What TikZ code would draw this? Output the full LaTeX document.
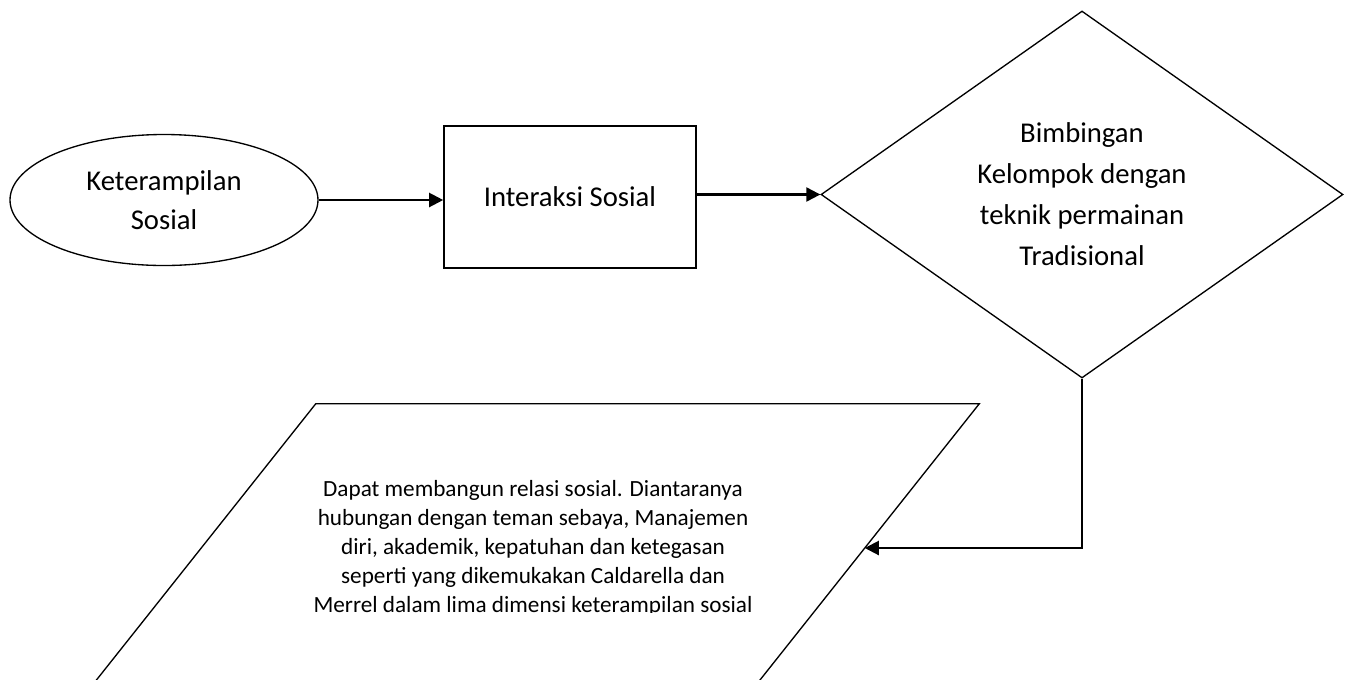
\documentclass[tikz,border=0pt]{standalone}
\usepackage{fontspec}
\setmainfont{Carlito}
\usetikzlibrary{positioning,shapes.geometric,arrows.meta}

\begin{document}
\begin{tikzpicture}[x=0.75pt, y=-0.75pt,
				awal/.style={ellipse, draw=black, line width=1pt, minimum width=231pt, minimum height=98.25pt, inner sep=0pt, align=center, font=\fontsize{21.5}{29.5}\selectfont},
				proses/.style={rectangle, draw=black, line width=1.2pt, minimum width=189pt, minimum height=106.5pt, font=\fontsize{21.5}{28.5}\selectfont},
				keputusan/.style={diamond, draw=black, line width=1pt, minimum width=391.5pt, minimum height=275.25pt, inner sep=0pt, align=center, font=\fontsize{21.5}{30.75}\selectfont},
				hasilbox/.style={rectangle, minimum width=497.25pt, minimum height=216pt, inner sep=0pt, align=center, font=\fontsize{17.4}{21.75}\selectfont}
			]
			\useasboundingbox (0,0) rectangle (1349,679);
			\clip (0,0) rectangle (1349,679);
			\node[awal] (sosial) at (164,200) {Keterampilan\\Sosial};
			\node[proses] (interaksi) at (570,197) {Interaksi Sosial};
			\node[keputusan] (bimbingan) at (1082,194.5) {Bimbingan\\Kelompok dengan\\teknik permainan\\Tradisional};
			\begin{scope}
			\clip (0,0) rectangle (1349,612);
			\node[hasilbox] (relasi) at (533,548) {Dapat membangun relasi sosial. Diantaranya\\hubungan dengan teman sebaya, Manajemen\\diri, akademik, kepatuhan dan ketegasan\\seperti yang dikemukakan Caldarella dan\\Merrel dalam lima dimensi keterampilan sosial};
			\end{scope}
			\draw[line width=1pt] ([xshift=85.9pt]relasi.north west) -- ([xshift=85.9pt]relasi.north east) -- ([xshift=-85.9pt]relasi.south east) -- ([xshift=-85.9pt]relasi.south west) -- cycle;
			\begin{scope}[line width=1.6pt, -{Triangle[length=10.5pt,width=10.5pt]}]
			\draw (sosial.east) -- (sosial.east -| interaksi.west);
			\draw (bimbingan.west -| interaksi.east) -- (bimbingan.west);
			\draw (bimbingan.south) |- (relasi.east);
			\end{scope}
			\end{tikzpicture}
\end{document}
